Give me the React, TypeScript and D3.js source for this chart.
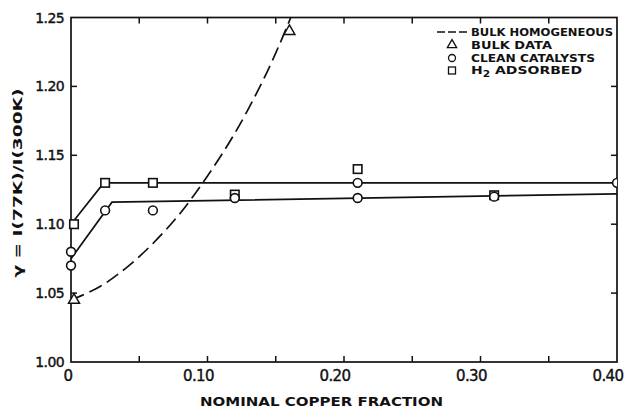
import { useRef, useEffect } from 'react';
import * as d3 from 'd3';

// axis ticks
const X_MAJOR = [0, 0.1, 0.2, 0.3, 0.4];
const X_MAJOR_LABELS = ['0', '0.10', '0.20', '0.30', '0.40'];
const X_ALL_TICKS = [0.05, 0.1, 0.15, 0.2, 0.25, 0.3, 0.35];
const Y_TICKS = [1.0, 1.05, 1.1, 1.15, 1.2, 1.25];
const Y_TICK_LABELS = ['1.00', '1.05', '1.10', '1.15', '1.20', '1.25'];
const Y_INNER_TICKS = [1.05, 1.1, 1.15, 1.2];

// bulk homogeneous (dashed curve)
const bulkCurveX = [0, 0.02, 0.04, 0.06, 0.08, 0.1, 0.12, 0.14, 0.153, 0.161];
const bulkCurveY = [1.045, 1.054, 1.068, 1.086, 1.108, 1.135, 1.166, 1.203, 1.231, 1.25];

// bulk data (triangles)
const bulkDataX = [0, 0.16];
const bulkDataY = [1.045, 1.24];

// clean catalysts (circles)
const cleanX = [0, 0, 0.025, 0.06, 0.12, 0.21, 0.21, 0.31, 0.4];
const cleanY = [1.08, 1.07, 1.11, 1.11, 1.119, 1.13, 1.119, 1.12, 1.13];

// H2 adsorbed (squares)
const h2X = [0, 0.025, 0.06, 0.12, 0.21, 0.31];
const h2Y = [1.1, 1.13, 1.13, 1.1215, 1.14, 1.121];

// fitted solid lines
const cleanFitX = [0, 0.03, 0.4];
const cleanFitY = [1.075, 1.116, 1.122];
const h2FitX = [0, 0.024, 0.4];
const h2FitY = [1.1, 1.13, 1.13];

const LEGEND = ['BULK HOMOGENEOUS', 'BULK DATA', 'CLEAN CATALYSTS', 'H2 ADSORBED'];
const LEGEND_WIDTHS = [142, 81, 124, 111];

const W = 627;
const H = 411;
const PLOT = { left: 71, right: 617, top: 17.5, bottom: 362 };
const INK = '#111';
const FONT = 'DejaVu Sans, sans-serif';

type Pt = [number, number];
const zip = (xs: number[], ys: number[]): Pt[] => xs.map((x, i) => [x, ys[i]]);

export default function App() {
  const svgRef = useRef<SVGSVGElement>(null);

  useEffect(() => {
    document.body.style.margin = '0';
    const svg = svgRef.current;
    if (!svg) return;

    const x = d3.scaleLinear().domain([0, 0.4]).range([PLOT.left, PLOT.right]);
    const y = d3.scaleLinear().domain([1.0, 1.25]).range([PLOT.bottom, PLOT.top]);

    const root = d3.select(svg);
    root.selectAll('*').remove();

    root.append('defs').append('clipPath').attr('id', 'plotclip')
      .append('rect').attr('x', PLOT.left - 8).attr('y', PLOT.top - 10)
      .attr('width', PLOT.right - PLOT.left + 8).attr('height', PLOT.bottom - PLOT.top + 10);

    // frame
    root.append('rect').attr('x', PLOT.left).attr('y', PLOT.top)
      .attr('width', PLOT.right - PLOT.left).attr('height', PLOT.bottom - PLOT.top)
      .attr('fill', 'none').attr('stroke', INK).attr('stroke-width', 1.7);

    // ticks (all pointing inward)
    const tl = 6;
    X_ALL_TICKS.forEach(t => {
      root.append('line').attr('x1', x(t)).attr('x2', x(t)).attr('y1', PLOT.bottom).attr('y2', PLOT.bottom - tl)
        .attr('stroke', INK).attr('stroke-width', 1.5);
      root.append('line').attr('x1', x(t)).attr('x2', x(t)).attr('y1', PLOT.top).attr('y2', PLOT.top + tl)
        .attr('stroke', INK).attr('stroke-width', 1.5);
    });
    Y_INNER_TICKS.forEach(t => {
      root.append('line').attr('x1', PLOT.left).attr('x2', PLOT.left + tl).attr('y1', y(t)).attr('y2', y(t))
        .attr('stroke', INK).attr('stroke-width', 1.5);
      root.append('line').attr('x1', PLOT.right).attr('x2', PLOT.right - tl).attr('y1', y(t)).attr('y2', y(t))
        .attr('stroke', INK).attr('stroke-width', 1.5);
    });

    // tick labels
    Y_TICKS.forEach((t, i) => {
      root.append('text').attr('x', PLOT.left - 7).attr('y', y(t)).attr('dy', '0.36em')
        .attr('text-anchor', 'end').attr('font-family', FONT).attr('font-size', 14).attr('fill', INK)
        .attr('stroke', INK).attr('stroke-width', 0.4)
        .attr('letter-spacing', -0.6).text(Y_TICK_LABELS[i]);
    });
    X_MAJOR.forEach((t, i) => {
      root.append('text').attr('x', x(t) + (i === 0 ? -3 : -9)).attr('y', 381)
        .attr('text-anchor', 'middle').attr('font-family', FONT).attr('font-size', 15).attr('fill', INK)
        .attr('stroke', INK).attr('stroke-width', 0.4)
        .attr('letter-spacing', -0.6).text(X_MAJOR_LABELS[i]);
    });

    // axis titles
    root.append('text').attr('x', 200).attr('y', 406).attr('font-family', FONT).attr('font-size', 12.5)
      .attr('font-weight', 'bold').attr('fill', INK)
      .attr('textLength', 243).attr('lengthAdjust', 'spacingAndGlyphs').text('NOMINAL COPPER FRACTION');
    root.append('text').attr('transform', `translate(22,${183}) rotate(-90)`)
      .attr('text-anchor', 'middle').attr('font-family', FONT).attr('font-size', 13).attr('font-weight', 'bold')
      .attr('fill', INK).attr('textLength', 189).attr('lengthAdjust', 'spacingAndGlyphs')
      .text('γ = I(77K)/I(300K)');

    const plot = root.append('g').attr('clip-path', 'url(#plotclip)');

    // dashed bulk homogeneous curve
    const curve = d3.line<Pt>().x(d => x(d[0])).y(d => y(d[1])).curve(d3.curveCatmullRom);
    plot.append('path').datum(zip(bulkCurveX, bulkCurveY)).attr('d', curve)
      .attr('fill', 'none').attr('stroke', INK).attr('stroke-width', 1.7).attr('stroke-dasharray', '14,6');

    // solid fits
    const seg = d3.line<Pt>().x(d => x(d[0])).y(d => y(d[1]));
    [zip(cleanFitX, cleanFitY), zip(h2FitX, h2FitY)].forEach(pts => {
      plot.append('path').datum(pts).attr('d', seg)
        .attr('fill', 'none').attr('stroke', INK).attr('stroke-width', 1.7);
    });

    // markers
    const sq = 8.5;
    zip(h2X, h2Y).forEach(([a, b]) => {
      plot.append('rect').attr('x', x(a) - sq / 2 + (a === 0 ? 3 : 0)).attr('y', y(b) - sq / 2)
        .attr('width', sq).attr('height', sq).attr('fill', '#fff').attr('stroke', INK).attr('stroke-width', 1.6);
    });
    zip(cleanX, cleanY).forEach(([a, b]) => {
      plot.append('circle').attr('cx', x(a)).attr('cy', y(b)).attr('r', 4.4)
        .attr('fill', '#fff').attr('stroke', INK).attr('stroke-width', 1.6);
    });
    const tri = d3.symbol().type(d3.symbolTriangle).size(52);
    zip(bulkDataX, bulkDataY).forEach(([a, b]) => {
      plot.append('path').attr('d', tri()).attr('transform', `translate(${x(a) + (a === 0 ? 3 : 0)},${y(b)})`)
        .attr('fill', '#fff').attr('stroke', INK).attr('stroke-width', 1.5);
    });

    // legend
    const lg = root.append('g');
    const rowY = [32, 45, 58, 70.5];
    const symX = 452;
    const textX = 471;
    lg.append('line').attr('x1', 437).attr('x2', 468).attr('y1', rowY[0]).attr('y2', rowY[0])
      .attr('stroke', INK).attr('stroke-width', 1.7).attr('stroke-dasharray', '8,3');
    lg.append('path').attr('d', d3.symbol().type(d3.symbolTriangle).size(38)()).attr('transform', `translate(${symX},${rowY[1]})`)
      .attr('fill', '#fff').attr('stroke', INK).attr('stroke-width', 1.3);
    lg.append('circle').attr('cx', symX).attr('cy', rowY[2]).attr('r', 3.5)
      .attr('fill', '#fff').attr('stroke', INK).attr('stroke-width', 1.3);
    lg.append('rect').attr('x', symX - 3.5).attr('y', rowY[3] - 3.5).attr('width', 7).attr('height', 7)
      .attr('fill', '#fff').attr('stroke', INK).attr('stroke-width', 1.3);

    LEGEND.forEach((label, i) => {
      const t = lg.append('text').attr('x', textX).attr('y', rowY[i]).attr('dy', '0.36em')
        .attr('font-family', FONT).attr('font-size', 10.5).attr('font-weight', 'bold').attr('fill', INK)
        .attr('textLength', LEGEND_WIDTHS[i]).attr('lengthAdjust', 'spacingAndGlyphs');
      if (label.startsWith('H2')) {
        t.append('tspan').text('H');
        t.append('tspan').attr('font-size', 8).attr('dy', 3).text('2');
        t.append('tspan').attr('dy', -3).text(label.slice(2));
      } else {
        t.text(label);
      }
    });
  }, []);

  return (
    <svg ref={svgRef} width={W} height={H} viewBox={`0 0 ${W} ${H}`}
      style={{ display: 'block', background: '#fff' }} />
  );
}
